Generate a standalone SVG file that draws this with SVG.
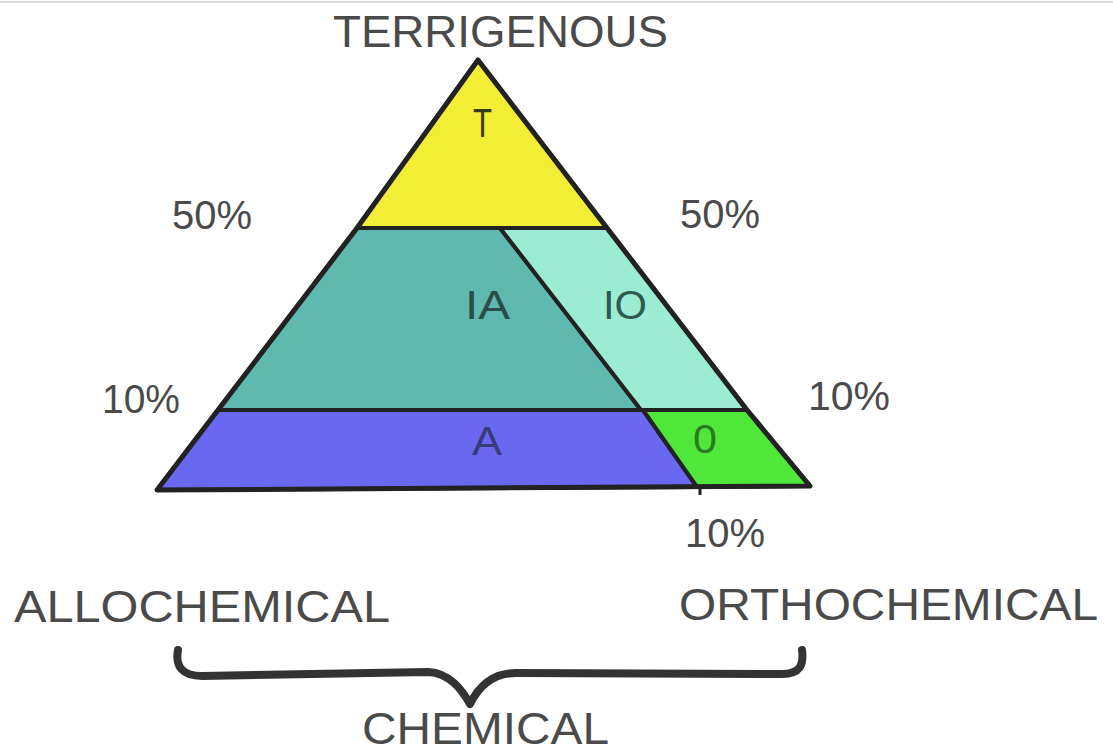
<svg xmlns="http://www.w3.org/2000/svg" width="1113" height="755" viewBox="0 0 1113 755">
<style>
.lbl{font-family:"Liberation Sans",Arial,sans-serif;fill:#4a4a4a}
.in{font-family:"Liberation Sans",Arial,sans-serif}
.reg{stroke:#222;stroke-width:4;stroke-linejoin:round}
</style>
<rect width="1113" height="755" fill="#ffffff"/>
<line x1="0" y1="2" x2="1113" y2="2" stroke="#dcdcdc" stroke-width="2"/>
<g id="region-T">
<polygon class="reg" points="478,60 607,228 357,228" fill="#f2ee36"/>
<text class="in" x="473" y="137" font-size="40" textLength="19" lengthAdjust="spacingAndGlyphs" fill="#3a3a12">T</text>
</g>
<g id="region-IA">
<polygon class="reg" points="357,228 500,228 641,410 218,410" fill="#5fb9ae"/>
<text class="in" x="465" y="319" font-size="40" textLength="45" lengthAdjust="spacingAndGlyphs" fill="#2a4d4a">IA</text>
</g>
<g id="region-IO">
<polygon class="reg" points="500,228 607,228 747,410 641,410" fill="#9cecd4"/>
<text class="in" x="603" y="319" font-size="40" textLength="44" lengthAdjust="spacingAndGlyphs" fill="#2f5a4e">IO</text>
</g>
<g id="region-A">
<polygon class="reg" points="218,410 643,410 697,487 157,490" fill="#6a68f0"/>
<text class="in" x="472" y="455" font-size="40" textLength="30" lengthAdjust="spacingAndGlyphs" fill="#3b3b7a">A</text>
</g>
<g id="region-O">
<polygon class="reg" points="643,410 747,410 810,486 697,487" fill="#4fe83a"/>
<text class="in" x="693" y="453" font-size="40" textLength="24" lengthAdjust="spacingAndGlyphs" fill="#2a7a22">0</text>
</g>
<g id="outline">
<polygon points="478,60 607,228 747,410 810,486 157,490 218,410 357,228" fill="none" stroke="#222" stroke-width="5" stroke-linejoin="round"/>
<line x1="700" y1="488" x2="700" y2="495" stroke="#222" stroke-width="3"/>
</g>
<g id="labels">
<text class="lbl" x="333" y="47" font-size="44" textLength="335" lengthAdjust="spacingAndGlyphs">TERRIGENOUS</text>
<text class="lbl" x="172" y="229" font-size="40" textLength="80" lengthAdjust="spacingAndGlyphs">50%</text>
<text class="lbl" x="680" y="228" font-size="40" textLength="80" lengthAdjust="spacingAndGlyphs">50%</text>
<text class="lbl" x="102" y="413" font-size="40" textLength="78" lengthAdjust="spacingAndGlyphs">10%</text>
<text class="lbl" x="808" y="410" font-size="40" textLength="82" lengthAdjust="spacingAndGlyphs">10%</text>
<text class="lbl" x="685" y="547" font-size="40" textLength="80" lengthAdjust="spacingAndGlyphs">10%</text>
<text class="lbl" x="14" y="622" font-size="44" textLength="376" lengthAdjust="spacingAndGlyphs">ALLOCHEMICAL</text>
<text class="lbl" x="679" y="620" font-size="44" textLength="419" lengthAdjust="spacingAndGlyphs">ORTHOCHEMICAL</text>
<text class="lbl" x="362" y="744" font-size="44" textLength="247" lengthAdjust="spacingAndGlyphs">CHEMICAL</text>
</g>
<g id="connectors">
<path d="M178,650 C175,666 182,676 202,676 L428,672 C450,673 462,690 470,704 C478,688 492,673 516,673 L782,674 C800,674 804,665 802,650" fill="none" stroke="#333" stroke-width="8" stroke-linecap="round" stroke-linejoin="round"/>
</g>
</svg>
